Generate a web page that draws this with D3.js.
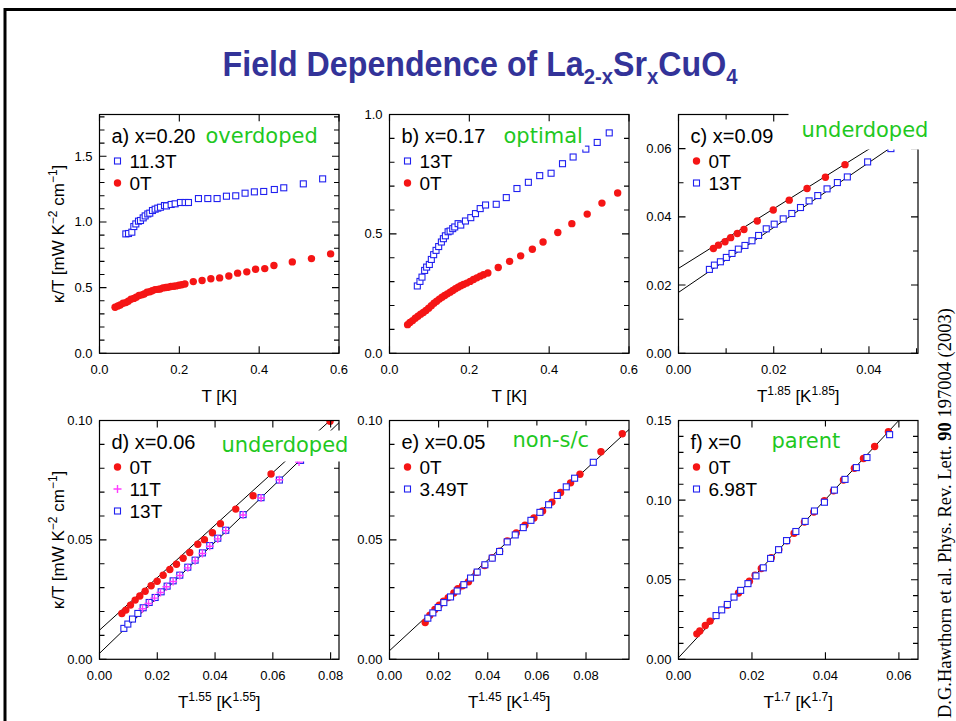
<!DOCTYPE html>
<html lang="en">
<head>
<meta charset="UTF-8">
<title>Field Dependence of La2-xSrxCuO4</title>
<script src="https://cdnjs.cloudflare.com/ajax/libs/d3/7.8.5/d3.min.js"></script>
<style>
    body {
        margin: 0;
        background: #fff;
    }

    svg {
        display: block;
        font-family: 'Liberation Sans', Arial, sans-serif;
    }

    .tick-label {
        font-size: 13px;
    }

    .axis-title {
        font-size: 17px;
    }

    .panel-name {
        font-size: 20px;
    }

    .legend-text {
        font-size: 19px;
    }

    .tag {
        font-family: 'Comic Sans MS', 'DejaVu Sans', sans-serif;
        font-size: 21px;
    }
</style>
</head>
<body>
<svg id="chart" width="956" height="721"></svg>
<script>
    // ---- data: [T or T^n, kappa/T] ----

    // a) x=0.20
    const a113T = [[0.066, 0.909], [0.0727, 0.912], [0.081, 0.922], [0.086, 0.965], [0.091, 0.985], [0.0977, 1.006],
        [0.1027, 1.011], [0.1094, 1.031], [0.1144, 1.046], [0.121, 1.061], [0.126, 1.067], [0.1327, 1.087],
        [0.1394, 1.097], [0.146, 1.105], [0.1528, 1.112], [0.1628, 1.125], [0.1678, 1.122], [0.1795, 1.133],
        [0.1895, 1.138], [0.2028, 1.148], [0.2145, 1.148], [0.2229, 1.148], [0.2479, 1.178], [0.2713, 1.178],
        [0.2946, 1.178], [0.318, 1.196], [0.3413, 1.199], [0.3647, 1.219], [0.388, 1.229], [0.4114, 1.232],
        [0.438, 1.247], [0.4616, 1.26], [0.5106, 1.29], [0.559, 1.328]];
    const a0T = [[0.039, 0.351], [0.046, 0.360], [0.052, 0.368], [0.059, 0.381], [0.066, 0.386], [0.072, 0.396],
        [0.079, 0.411], [0.086, 0.418], [0.092, 0.427], [0.099, 0.440], [0.106, 0.445], [0.112, 0.452],
        [0.119, 0.465], [0.126, 0.469], [0.132, 0.476], [0.139, 0.485], [0.146, 0.487], [0.152, 0.490],
        [0.159, 0.498], [0.166, 0.501], [0.172, 0.503], [0.179, 0.508], [0.186, 0.511], [0.192, 0.513],
        [0.199, 0.518], [0.206, 0.522], [0.214, 0.528], [0.235, 0.546], [0.257, 0.554], [0.279, 0.567],
        [0.301, 0.574], [0.324, 0.589], [0.346, 0.610], [0.369, 0.620], [0.391, 0.640], [0.414, 0.645],
        [0.437, 0.668], [0.483, 0.696], [0.531, 0.721], [0.579, 0.757]];

    // b) x=0.17
    const b13T = [[0.0697, 0.282], [0.0763, 0.301], [0.0814, 0.319], [0.088, 0.347], [0.093, 0.361], [0.0998, 0.372],
        [0.1048, 0.393], [0.1106, 0.413], [0.1166, 0.431], [0.1232, 0.447], [0.130, 0.466], [0.135, 0.480],
        [0.140, 0.492], [0.1468, 0.509], [0.1518, 0.512], [0.1584, 0.522], [0.1634, 0.529], [0.1719, 0.543],
        [0.1785, 0.537], [0.1903, 0.554], [0.2036, 0.568], [0.2154, 0.585], [0.2272, 0.606], [0.2406, 0.621],
        [0.2674, 0.624], [0.2926, 0.652], [0.3193, 0.690], [0.3479, 0.716], [0.3763, 0.744], [0.4048, 0.754],
        [0.4334, 0.794], [0.460, 0.822], [0.4919, 0.855], [0.5204, 0.883], [0.5505, 0.923]];
    const b0T = [[0.0453, 0.120], [0.0512, 0.129], [0.0579, 0.137], [0.0646, 0.147], [0.0713, 0.155], [0.078, 0.164],
        [0.0847, 0.171], [0.0914, 0.179], [0.0981, 0.189], [0.1048, 0.199], [0.1115, 0.210], [0.1182, 0.218],
        [0.1249, 0.227], [0.1316, 0.235], [0.1383, 0.242], [0.145, 0.249], [0.1518, 0.256], [0.1585, 0.263],
        [0.1652, 0.270], [0.1719, 0.277], [0.1786, 0.283], [0.1853, 0.288], [0.1936, 0.294], [0.202, 0.301],
        [0.2104, 0.309], [0.2188, 0.316], [0.2272, 0.323], [0.2355, 0.329], [0.2464, 0.336], [0.2724, 0.359],
        [0.3009, 0.385], [0.3286, 0.408], [0.3579, 0.436], [0.3847, 0.466], [0.4216, 0.506], [0.4568, 0.543],
        [0.4953, 0.583], [0.5322, 0.629], [0.5716, 0.671]];

    // c) x=0.09
    const c0T = [[0.00733, 0.0307], [0.00838, 0.0317], [0.00977, 0.0327], [0.01096, 0.0339], [0.01236, 0.0351],
        [0.01375, 0.0363], [0.01654, 0.0388], [0.0199, 0.0420], [0.02325, 0.0449], [0.0270, 0.0483],
        [0.03086, 0.0516], [0.03497, 0.0553]];
    const c13T = [[0.00649, 0.02459], [0.00754, 0.02585], [0.0088, 0.02683], [0.01005, 0.0281], [0.01124, 0.02927],
        [0.01257, 0.03054], [0.01396, 0.03161], [0.01543, 0.03298], [0.01682, 0.03454], [0.01843, 0.03649],
        [0.0201, 0.03785], [0.02199, 0.03941], [0.0238, 0.04098], [0.02562, 0.04273], [0.02743, 0.04468],
        [0.02925, 0.04624], [0.0312, 0.0482], [0.03337, 0.05005], [0.03546, 0.0517], [0.03972, 0.0561],
        [0.04461, 0.060]];
    const cFits = [[0.0249, 0.874], [0.01785, 0.952]]; // [intercept, slope]

    // d) x=0.06
    const d0T = [[0.00774, 0.0192], [0.00912, 0.0206], [0.01073, 0.0227], [0.01235, 0.0248], [0.01396, 0.0265],
        [0.01581, 0.0285], [0.01788, 0.0308], [0.01995, 0.0327], [0.02203, 0.0352], [0.02434, 0.0376],
        [0.02664, 0.0398], [0.02895, 0.0423], [0.03125, 0.0447], [0.03402, 0.0482], [0.03632, 0.0501],
        [0.03909, 0.053], [0.04186, 0.0568], [0.04716, 0.0629], [0.05316, 0.0685], [0.05938, 0.0776],
        [0.0653, 0.0862], [0.0798, 0.0997]];
    const d11T = [[0.01488, 0.02116], [0.01696, 0.02339], [0.01903, 0.02562], [0.02111, 0.02799], [0.02318, 0.03035],
        [0.02549, 0.03258], [0.02779, 0.03509], [0.03056, 0.03829], [0.0331, 0.04122], [0.03563, 0.04428],
        [0.03817, 0.04735], [0.04094, 0.05041], [0.0437, 0.05389], [0.0497, 0.06044], [0.05592, 0.06754],
        [0.06226, 0.0752], [0.06907, 0.08263]];
    const d13T = [[0.00843, 0.01294], [0.00981, 0.01475], [0.01142, 0.01685], [0.01327, 0.0192], [0.01511, 0.02158],
        [0.01719, 0.0238], [0.01926, 0.02589], [0.02134, 0.02826], [0.02341, 0.03063], [0.02549, 0.03286],
        [0.02779, 0.03523], [0.03056, 0.03857], [0.0331, 0.04151], [0.03563, 0.04456], [0.03817, 0.04763],
        [0.04094, 0.0507], [0.0437, 0.05403], [0.0497, 0.06058], [0.05592, 0.06768], [0.06226, 0.07507],
        [0.0696, 0.0833]];
    const dFits = [[0.0122, 1.10], [0.0025, 1.165]];

    // e) x=0.05
    const e0T = [[0.01453, 0.01542], [0.01643, 0.01847], [0.01847, 0.02083], [0.02023, 0.02264], [0.022, 0.0243],
        [0.0239, 0.02583], [0.0262, 0.02778], [0.02783, 0.02958], [0.02974, 0.03083], [0.03218, 0.0325],
        [0.03544, 0.03639], [0.0387, 0.03931], [0.04182, 0.0425], [0.04481, 0.04528], [0.04793, 0.04958],
        [0.0516, 0.05292], [0.05513, 0.05611], [0.05879, 0.05917], [0.06232, 0.06208], [0.06612, 0.06583],
        [0.06965, 0.06986], [0.07373, 0.07389], [0.07753, 0.0775], [0.08608, 0.08694], [0.09477, 0.09444]];
    const e349T = [[0.01561, 0.01722], [0.01765, 0.01944], [0.01982, 0.02167], [0.02213, 0.02375], [0.02485, 0.02611],
        [0.02756, 0.02861], [0.03028, 0.03125], [0.03299, 0.03403], [0.03571, 0.03653], [0.03883, 0.03958],
        [0.04182, 0.04236], [0.04481, 0.04514], [0.04793, 0.04917], [0.05119, 0.05208], [0.05445, 0.05514],
        [0.05757, 0.05819], [0.06124, 0.06153], [0.06477, 0.06472], [0.0683, 0.06861], [0.07196, 0.07222],
        [0.07536, 0.07583], [0.08296, 0.0825]];
    const eFits = [[0.0036, 0.95]];

    // f) x=0
    const f0T = [[0.0050, 0.0160], [0.0058, 0.0178], [0.0073, 0.0212], [0.0086, 0.0240], [0.01328, 0.0340],
        [0.01634, 0.0416], [0.0193, 0.0490], [0.02085, 0.0528], [0.02255, 0.0570], [0.02527, 0.0638],
        [0.02731, 0.0689], [0.02952, 0.0744], [0.03147, 0.0792], [0.03428, 0.0862], [0.03683, 0.0925],
        [0.03972, 0.0997], [0.04218, 0.1058], [0.0449, 0.1126], [0.04788, 0.1200], [0.05035, 0.1261],
        [0.0534, 0.1337], [0.05714, 0.1430]];
    const f698T = [[0.01023, 0.02746], [0.01176, 0.03105], [0.0133, 0.03443], [0.01511, 0.03908], [0.01692, 0.0433],
        [0.01891, 0.04753], [0.02109, 0.05239], [0.02308, 0.05746], [0.02507, 0.06337], [0.02724, 0.06886],
        [0.02941, 0.07457], [0.03195, 0.08027], [0.03448, 0.08661], [0.03701, 0.09316], [0.03973, 0.09865],
        [0.04244, 0.10625], [0.04534, 0.11301], [0.04842, 0.12041], [0.05131, 0.12674], [0.05747, 0.14111]];
    const fFits = [[0.001, 2.485]];

    // ---- drawing ----
    const RED = '#f51515', BLUE = '#2020f0', MAGENTA = '#ff3cff', GREEN = '#1fc81f';
    const svg = d3.select('#chart');

    // slide frame
    svg.append('path')
        .attr('d', 'M5,721V9.5H956')
        .attr('fill', 'none')
        .attr('stroke', '#000')
        .attr('stroke-width', 3);

    // title
    const title = svg.append('text')
        .attr('transform', 'translate(480,76) scale(0.92,1)')
        .attr('text-anchor', 'middle')
        .attr('font-size', 35)
        .attr('font-weight', 'bold')
        .attr('fill', '#333399');
    title.append('tspan').text('Field Dependence of La');
    title.append('tspan').attr('font-size', 22).attr('dy', 8).text('2-x');
    title.append('tspan').attr('dy', -8).text('Sr');
    title.append('tspan').attr('font-size', 22).attr('dy', 8).text('x');
    title.append('tspan').attr('dy', -8).text('CuO');
    title.append('tspan').attr('font-size', 22).attr('dy', 8).text('4');

    // citation on the right edge
    const cite = svg.append('text')
        .attr('transform', 'translate(951,718) rotate(-90)')
        .attr('font-family', "'Liberation Serif', 'Times New Roman', serif")
        .attr('font-size', 18.5);
    cite.append('tspan').text('D.G.Hawthorn et al. Phys. Rev. Lett. ');
    cite.append('tspan').attr('font-weight', 'bold').text('90');
    cite.append('tspan').text(' 197004 (2003)');

    const panels = [
        {
            left: 99.5, top: 114.5, x: [0, 0.6], y: [0, 1.818], xStep: 0.2, xMinor: 0, yStep: 0.5, yMinor: 0.1,
            fmt: '.1f', name: 'a) x=0.20', tag: 'overdoped', tagX: 106, tagY: 28, tagPad: [2, 2, 2, 2], yTitle: true,
            xTitle: [['T [K]']],
            series: [{data: a113T, mark: 'square', label: '11.3T'}, {data: a0T, mark: 'circle', label: '0T'}],
            fits: []
        },
        {
            left: 389.5, top: 114.5, x: [0, 0.6], y: [0, 1.0], xStep: 0.2, xMinor: 0, yStep: 0.5, yMinor: 0.1,
            fmt: '.1f', name: 'b) x=0.17', tag: 'optimal', tagX: 114, tagY: 28, tagPad: [2, 2, 2, 2],
            xTitle: [['T [K]']],
            series: [{data: b13T, mark: 'square', label: '13T'}, {data: b0T, mark: 'circle', label: '0T'}],
            fits: []
        },
        {
            left: 678.5, top: 114.5, x: [0, 0.0503], y: [0, 0.07], xStep: 0.02, xMinor: 0.01, yStep: 0.02, yMinor: 0.01,
            fmt: '.2f', name: 'c) x=0.09', tag: 'underdoped', tagX: 123, tagY: 22, tagPad: [13, 6, 4, 8],
            xTitle: [['T'], ['1.85', 'sup'], [' [K'], ['1.85', 'sup'], [']']],
            series: [{data: c0T, mark: 'circle', label: '0T'}, {data: c13T, mark: 'square', label: '13T'}],
            fits: cFits
        },
        {
            left: 99.5, top: 420.5, x: [0, 0.0829], y: [0, 0.1], xStep: 0.02, xMinor: 0, yStep: 0.05, yMinor: 0.01,
            fmt: '.2f', name: 'd) x=0.06', tag: 'underdoped', tagX: 122, tagY: 31, tagPad: [2, 2, 3, 5], yTitle: true,
            xTitle: [['T'], ['1.55', 'sup'], [' [K'], ['1.55', 'sup'], [']']],
            series: [{data: d0T, mark: 'circle', label: '0T'}, {data: d11T, mark: 'cross', label: '11T'},
                {data: d13T, mark: 'square', label: '13T'}],
            drawOrder: [0, 2, 1],
            fits: dFits
        },
        {
            left: 389.5, top: 420.5, x: [0, 0.0975], y: [0, 0.1], xStep: 0.02, xMinor: 0, yStep: 0.05, yMinor: 0.01,
            fmt: '.2f', name: 'e) x=0.05', tag: 'non-s/c', tagX: 123, tagY: 26, tagPad: [2, 2, 2, 2],
            xTitle: [['T'], ['1.45', 'sup'], [' [K'], ['1.45', 'sup'], [']']],
            series: [{data: e0T, mark: 'circle', label: '0T'}, {data: e349T, mark: 'square', label: '3.49T'}],
            fits: eFits
        },
        {
            left: 678.5, top: 420.5, x: [0, 0.0652], y: [0, 0.15], xStep: 0.02, xMinor: 0, yStep: 0.05, yMinor: 0.01,
            fmt: '.2f', name: 'f) x=0', tag: 'parent', tagX: 93, tagY: 27, tagPad: [2, 2, 2, 2],
            xTitle: [['T'], ['1.7', 'sup'], [' [K'], ['1.7', 'sup'], [']']],
            series: [{data: f0T, mark: 'circle', label: '0T'}, {data: f698T, mark: 'square', label: '6.98T'}],
            fits: fFits
        }
    ];

    const W = 239.5, H = 238.8;

    function drawMark(sel, mark) {
        if (mark === 'circle') {
            sel.append('circle').attr('r', 3.7).attr('fill', RED);
        } else if (mark === 'square') {
            sel.append('rect').attr('x', -3).attr('y', -3).attr('width', 6).attr('height', 6)
                .attr('fill', '#fff').attr('stroke', BLUE).attr('stroke-width', 1.1);
        } else {
            sel.append('path').attr('d', 'M-4,0H4M0,-4V4').attr('stroke', MAGENTA).attr('stroke-width', 1.4);
        }
    }

    function stepsTo(max, step) {
        const n = Math.floor(max / step + 1e-6);
        return d3.range(n + 1).map(i => +(i * step).toFixed(6));
    }

    panels.forEach(function (p, idx) {
        const g = svg.append('g').attr('transform', 'translate(' + p.left + ',' + p.top + ')');
        const xs = d3.scaleLinear().domain(p.x).range([0, W]);
        const ys = d3.scaleLinear().domain(p.y).range([H, 0]);
        const fmt = d3.format(p.fmt);

        const clipId = 'clip' + idx;
        g.append('clipPath').attr('id', clipId)
            .append('rect').attr('width', W).attr('height', H);
        const plot = g.append('g').attr('clip-path', 'url(#' + clipId + ')');

        // fit lines
        p.fits.forEach(function (f) {
            plot.append('line')
                .attr('x1', xs(0)).attr('y1', ys(f[0]))
                .attr('x2', xs(p.x[1])).attr('y2', ys(f[0] + f[1] * p.x[1]))
                .attr('stroke', '#000').attr('stroke-width', 1);
        });

        // data points
        const order = p.drawOrder || p.series.map((s, i) => i);
        order.forEach(function (i) {
            const s = p.series[i];
            plot.append('g').selectAll('g')
                .data(s.data)
                .enter().append('g')
                .attr('transform', d => 'translate(' + xs(d[0]) + ',' + ys(d[1]) + ')')
                .each(function () {
                    drawMark(d3.select(this), s.mark);
                });
        });

        // frame
        g.append('rect').attr('width', W).attr('height', H)
            .attr('fill', 'none').attr('stroke', '#000').attr('stroke-width', 1.2);

        // ticks (inside, on all four sides)
        const xMaj = stepsTo(p.x[1], p.xStep);
        const yMaj = stepsTo(p.y[1], p.yStep);
        const xMin = p.xMinor ? stepsTo(p.x[1], p.xMinor).filter(v => !xMaj.some(m => Math.abs(m - v) < 1e-9)) : [];
        const yMin = stepsTo(p.y[1], p.yMinor).filter(v => !yMaj.some(m => Math.abs(m - v) < 1e-9));
        let path = '';
        xMaj.forEach(v => { path += 'M' + xs(v) + ',' + H + 'v-7M' + xs(v) + ',0v7'; });
        xMin.forEach(v => { path += 'M' + xs(v) + ',' + H + 'v-5M' + xs(v) + ',0v5'; });
        yMaj.forEach(v => { path += 'M0,' + ys(v) + 'h7M' + W + ',' + ys(v) + 'h-7'; });
        yMin.forEach(v => { path += 'M0,' + ys(v) + 'h5M' + W + ',' + ys(v) + 'h-5'; });
        g.append('path').attr('d', path).attr('stroke', '#000').attr('stroke-width', 1.1);

        g.selectAll('.xl').data(xMaj).enter().append('text')
            .attr('class', 'tick-label')
            .attr('x', d => xs(d)).attr('y', H + 21)
            .attr('text-anchor', 'middle')
            .text(d => fmt(d));
        g.selectAll('.yl').data(yMaj).enter().append('text')
            .attr('class', 'tick-label')
            .attr('x', -7).attr('y', d => ys(d)).attr('dy', '0.35em')
            .attr('text-anchor', 'end')
            .text(d => fmt(d));

        // axis titles
        const xt = g.append('text').attr('class', 'axis-title')
            .attr('x', W / 2).attr('y', H + 49).attr('text-anchor', 'middle');
        p.xTitle.forEach(function (part, i) {
            const prev = i > 0 && p.xTitle[i - 1][1] === 'sup';
            const t = xt.append('tspan').text(part[0]);
            if (part[1] === 'sup') t.attr('font-size', 12).attr('dy', -7);
            else if (prev) t.attr('dy', 7);
        });
        if (p.yTitle) {
            const yt = g.append('text').attr('class', 'axis-title')
                .attr('transform', 'translate(-41,' + (H / 2) + ') rotate(-90)')
                .attr('text-anchor', 'middle').attr('dy', '0.35em');
            yt.append('tspan').text('\u03ba/T [mW K');
            yt.append('tspan').attr('font-size', 12).attr('dy', -7).text('\u22122');
            yt.append('tspan').attr('dy', 7).text(' cm');
            yt.append('tspan').attr('font-size', 12).attr('dy', -7).text('\u22121');
            yt.append('tspan').attr('dy', 7).text(']');
        }

        // panel name and legend
        g.append('text').attr('class', 'panel-name').attr('x', 12).attr('y', 28.5).text(p.name);
        p.series.forEach(function (s, i) {
            const yy = 53.5 + i * 22;
            drawMark(g.append('g').attr('transform', 'translate(18,' + (yy - 7) + ')'), s.mark);
            g.append('text').attr('class', 'legend-text').attr('x', 30).attr('y', yy).text(s.label);
        });

        // green annotation on a white box
        const box = g.append('rect').attr('fill', '#fff');
        const tag = g.append('text').attr('class', 'tag').attr('fill', GREEN)
            .attr('x', p.tagX).attr('y', p.tagY).text(p.tag);
        const bb = tag.node().getBBox();
        const pad = p.tagPad;
        box.attr('x', bb.x - pad[0]).attr('y', bb.y - pad[1])
            .attr('width', bb.width + pad[0] + pad[2]).attr('height', bb.height + pad[1] + pad[3]);
    });
</script>
</body>
</html>
